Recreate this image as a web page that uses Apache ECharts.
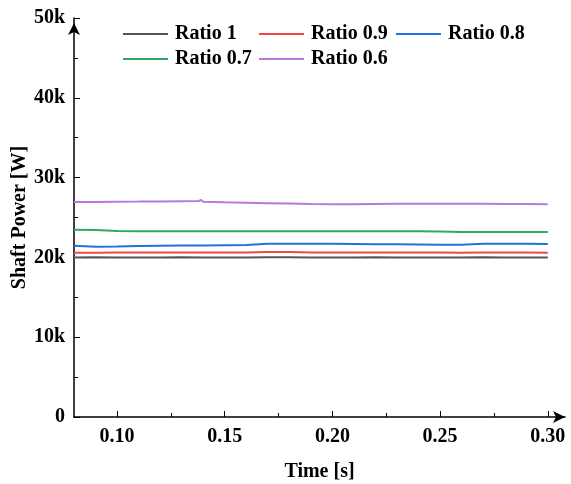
<!DOCTYPE html>
<html>
<head>
<meta charset="utf-8">
<script src="https://cdn.jsdelivr.net/npm/echarts@6/dist/echarts.min.js"></script>
<style>html,body{margin:0;padding:0;background:#fff;}#c{width:571px;height:484px;}</style>
</head>
<body>
<div id="c"></div>
<script>
const seriesNames = ['Ratio 1', 'Ratio 0.9', 'Ratio 0.8', 'Ratio 0.7', 'Ratio 0.6'];
const time = [0.08,0.09,0.10,0.11,0.12,0.13,0.14,0.15,0.16,0.17,0.18,0.19,0.20,0.21,0.22,0.23,0.24,0.25,0.26,0.27,0.28,0.29,0.30];
const ratio1  = [20000,20010,20000,19990,20000,20010,20000,19995,20000,20005,20010,20000,19995,20000,20005,20000,19990,19995,20000,20005,20000,19995,19990];
const ratio09 = [20580,20590,20600,20600,20610,20600,20600,20610,20620,20680,20670,20620,20610,20600,20600,20610,20600,20600,20590,20600,20600,20600,20590];
const ratio08 = [21470,21350,21360,21420,21450,21480,21500,21520,21550,21700,21720,21710,21700,21680,21660,21640,21620,21600,21580,21720,21720,21700,21680];
const ratio07 = [23470,23420,23300,23270,23280,23280,23290,23280,23270,23280,23290,23280,23280,23270,23280,23280,23270,23260,23180,23180,23180,23180,23180];
const time06  = [0.08,0.09,0.10,0.11,0.12,0.13,0.138,0.139,0.14,0.15,0.16,0.17,0.18,0.19,0.20,0.21,0.22,0.23,0.24,0.25,0.26,0.27,0.28,0.29,0.30];
const ratio06 = [26940,26950,26970,26990,27020,27050,27070,27200,26970,26900,26850,26800,26750,26700,26670,26670,26700,26720,26720,26720,26720,26710,26700,26680,26660];
const yTicks = [0, 10000, 20000, 30000, 40000, 50000];
const xMajor = [0.10, 0.15, 0.20, 0.25, 0.30];
const xMinor = [0.125, 0.175, 0.225, 0.275];

const colors = ['#555555', '#f04848', '#2070e0', '#30a860', '#b878e0'];
const FONT = 'Liberation Serif';
const FS = 20;
const ys = [ratio1, ratio09, ratio08, ratio07, ratio06];
const xs = [time, time, time, time, time06];

const series = seriesNames.map((n, i) => ({
  name: n, type: 'line', xAxisIndex: 0, yAxisIndex: 0,
  data: xs[i].map((t, k) => [t, ys[i][k]]),
  showSymbol: false, symbol: 'none',
  lineStyle: { color: colors[i], width: 2 }, itemStyle: { color: colors[i] },
  animation: false
}));

const legendPos = [[123, 24], [259, 24], [396, 24], [123, 49], [259, 49]];
const legends = seriesNames.map((n, i) => ({
  data: [n], left: legendPos[i][0], top: legendPos[i][1], icon: 'rect',
  itemWidth: 45, itemHeight: 2, itemGap: 0, padding: 0,
  textStyle: { fontFamily: FONT, fontWeight: 'bold', fontSize: FS, color: '#000', padding: [0, 0, 0, 2] }
}));

const chart = echarts.init(document.getElementById('c'), null, { renderer: 'canvas' });
chart.setOption({
  animation: false,
  color: colors,
  legend: legends,
  grid: { left: 74, right: 6, top: 18, bottom: 67, containLabel: false, outerBoundsMode: 'none' },
  xAxis: [{
    type: 'value', min: 0.08, max: 0.308,
    name: 'Time [s]', nameLocation: 'middle', nameGap: 45, nameMoveOverlap: false,
    nameTextStyle: { fontFamily: FONT, fontWeight: 'bold', fontSize: FS, color: '#000' },
    axisLine: { show: true, lineStyle: { color: '#000', width: 1.5 }, symbol: ['none', 'arrow'], symbolSize: [9, 12] },
    axisTick: { show: true, inside: true, length: 6, customValues: xMajor, lineStyle: { color: '#000' } },
    axisLabel: { customValues: xMajor, margin: 10, formatter: v => v.toFixed(2), fontFamily: FONT, fontWeight: 'bold', fontSize: FS, color: '#000' },
    splitLine: { show: false }
  }, {
    type: 'value', min: 0.08, max: 0.308, position: 'bottom',
    axisLine: { show: false },
    axisTick: { show: true, inside: true, length: 4, customValues: xMinor, lineStyle: { color: '#000' } },
    axisLabel: { show: false },
    splitLine: { show: false }
  }],
  yAxis: {
    type: 'value', min: 0, max: 50000, interval: 10000,
    name: 'Shaft Power [W]', nameLocation: 'middle', nameGap: 44, nameMoveOverlap: false,
    nameTextStyle: { fontFamily: FONT, fontWeight: 'bold', fontSize: FS, color: '#000' },
    axisLine: { show: true, lineStyle: { color: '#000', width: 1.5 }, symbol: ['none', 'arrow'], symbolSize: [9, 12], symbolOffset: [0, -5] },
    axisTick: { show: true, inside: true, length: 6, lineStyle: { color: '#000' } },
    minorTick: { show: true, splitNumber: 2, length: 4, lineStyle: { color: '#000' } },
    axisLabel: { margin: 9, formatter: v => v === 0 ? '0' : (v / 1000) + 'k', fontFamily: FONT, fontWeight: 'bold', fontSize: FS, color: '#000' },
    splitLine: { show: false }
  },
  series: series
});
</script>
</body>
</html>
